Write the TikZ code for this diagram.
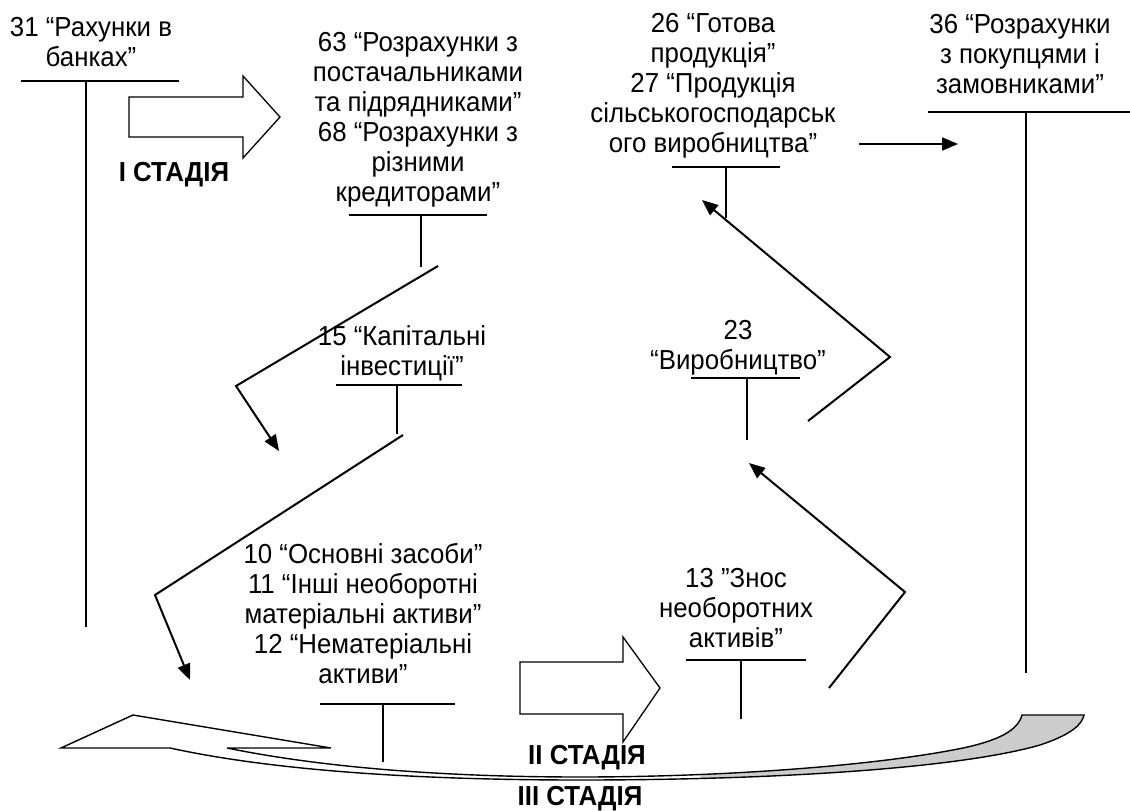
\documentclass[tikz,border=0pt]{standalone}
\usepackage{fontspec}
\setmainfont{Liberation Sans}[FakeStretch=0.94]
\usetikzlibrary{arrows.meta}
\begin{document}
\begin{tikzpicture}[x=1pt,y=-1pt,
  lbl/.style={align=center, inner sep=0pt, anchor=north, font=\fontsize{27.5}{30}\selectfont},
  stage/.style={inner sep=0pt, font=\bfseries\fontsize{27.5}{30}\selectfont},
  tline/.style={line width=1.5pt},
  arr/.style={line width=2pt, -{Triangle[length=16pt,width=13pt]}},
  blockarr/.style={line width=1.3pt, fill=white, line join=miter},
  ribbon/.style={line width=1.4pt, line join=miter},
]
\useasboundingbox (0,0) rectangle (1130,811);

% ---------- 31
\node[lbl] (a31) at (91,17) {31 “Рахунки в\\банках”};
\coordinate (a31l) at (21,81); \coordinate (a31r) at (179,81);
\coordinate (a31m) at (86,81); \coordinate (a31b) at (86,627);
\draw[tline] (a31l) -- (a31r); \draw[tline] (a31m) -- (a31b);

% ---------- stage I block arrow
\draw[blockarr] (129,97) -- (243,97) -- (243,76) -- (280,117) -- (243,158) -- (243,137) -- (129,137) -- cycle;
\node[stage] (s1) at (174,175) {І СТАДІЯ};

% ---------- 63 / 68
\node[lbl] (a63) at (418,32) {63 “Розрахунки з\\постачальниками\\та підрядниками”\\68 “Розрахунки з\\різними\\кредиторами”};
\coordinate (a63l) at (349,215); \coordinate (a63r) at (487,215);
\coordinate (a63m) at (421,215); \coordinate (a63b) at (421,267);
\draw[tline] (a63l) -- (a63r); \draw[tline] (a63m) -- (a63b);

% connector 63 -> 15
\coordinate (c1s) at (438,266); \coordinate (c1m) at (236,386); \coordinate (c1e) at (279,451);
\draw[arr] (c1s) -- (c1m) -- (c1e);

% ---------- 15
\node[lbl] (a15) at (402,325) {15 “Капітальні\\інвестиції”};
\coordinate (a15l) at (336,385); \coordinate (a15r) at (462,385);
\coordinate (a15m) at (397,385); \coordinate (a15b) at (397,434);
\draw[tline] (a15l) -- (a15r); \draw[tline] (a15m) -- (a15b);

% connector 15 -> 10
\coordinate (c2s) at (403,435); \coordinate (c2m) at (155,595); \coordinate (c2e) at (190,680);
\draw[arr] (c2s) -- (c2m) -- (c2e);

% ---------- 10 / 11 / 12
\node[lbl] (a10) at (363,543) {10 “Основні засоби”\\11 “Інші необоротні\\матеріальні активи”\\12 “Нематеріальні\\активи”};
\coordinate (a10l) at (320,704); \coordinate (a10r) at (455,704);
\coordinate (a10m) at (383,704); \coordinate (a10b) at (383,762);
\draw[tline] (a10l) -- (a10r); \draw[tline] (a10m) -- (a10b);

% ---------- stage II block arrow
\draw[blockarr] (520,662) -- (623,662) -- (623,637) -- (660,688) -- (623,742) -- (623,714) -- (520,714) -- cycle;

% ---------- 13
\node[lbl] (a13) at (736,568) {13 ”Знос\\необоротних\\активів”};
\coordinate (a13l) at (686,660); \coordinate (a13r) at (806,660);
\coordinate (a13m) at (741,660); \coordinate (a13b) at (741,719);
\draw[tline] (a13l) -- (a13r); \draw[tline] (a13m) -- (a13b);

% connector 13 -> 23
\coordinate (c3s) at (829,688); \coordinate (c3m) at (905,592); \coordinate (c3e) at (749,463);
\draw[arr] (c3s) -- (c3m) -- (c3e);

% ---------- 23
\node[lbl] (a23) at (738,320) {23\\“Виробництво”};
\coordinate (a23l) at (691,378); \coordinate (a23r) at (800,378);
\coordinate (a23m) at (747,378); \coordinate (a23b) at (747,440);
\draw[tline] (a23l) -- (a23r); \draw[tline] (a23m) -- (a23b);

% connector 23 -> 26
\coordinate (c4s) at (808,421); \coordinate (c4m) at (890,357); \coordinate (c4e) at (702,200);
\draw[arr] (c4s) -- (c4m) -- (c4e);

% ---------- 26 / 27
\node[lbl] (a26) at (713,13) {26 “Готова\\продукція”\\27 “Продукція\\сільськогосподарськ\\ого виробництва”};
\coordinate (a26l) at (672,167); \coordinate (a26r) at (780,167);
\coordinate (a26m) at (726,167); \coordinate (a26b) at (726,218);
\draw[tline] (a26l) -- (a26r); \draw[tline] (a26m) -- (a26b);

% connector 26 -> 36
\coordinate (c5s) at (859,144); \coordinate (c5e) at (958,144);
\draw[arr] (c5s) -- (c5e);

% ---------- 36
\node[lbl] (a36) at (1020,14) {36 “Розрахунки\\з покупцями і\\замовниками”};
\coordinate (a36l) at (928,112); \coordinate (a36r) at (1130,112);
\coordinate (a36m) at (1026,112); \coordinate (a36b) at (1026,673);
\draw[tline] (a36l) -- (a36r); \draw[tline] (a36m) -- (a36b);

% ---------- stage III curved arrow
\begin{scope}
\clip (700,0) rectangle (1130,811);
\fill[gray!40] (170,748) .. controls (280,772) and (430,780) .. (580,780)
  .. controls (780,780) and (960,768) .. (1040,745)
  .. controls (1070,735) and (1082,725) .. (1084,715)
  -- (1022,715)
  .. controls (1018,730) and (1000,740) .. (963,748)
  .. controls (880,765) and (730,777) .. (580,777)
  .. controls (440,777) and (320,767) .. (227,748) -- cycle;
\end{scope}
\draw[ribbon] (170,748) .. controls (280,772) and (430,780) .. (580,780)
  .. controls (780,780) and (960,768) .. (1040,745)
  .. controls (1070,735) and (1082,725) .. (1084,715)
  -- (1022,715)
  .. controls (1018,730) and (1000,740) .. (963,748)
  .. controls (880,765) and (730,777) .. (580,777)
  .. controls (440,777) and (320,767) .. (227,748)
  -- (331,748) -- (133,715) -- (61,748) -- cycle;

\node[stage] (s2) at (587,758) {ІІ СТАДІЯ};
\node[stage] (s3) at (580,799) {ІІІ СТАДІЯ};
\end{tikzpicture}
\end{document}
